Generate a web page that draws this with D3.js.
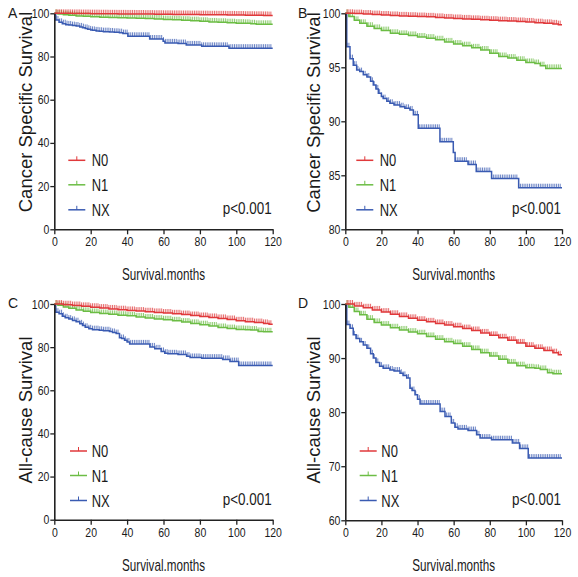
<!DOCTYPE html>
<html><head><meta charset="utf-8">
<script src="https://cdn.jsdelivr.net/npm/d3@7"></script>
<style>
body{margin:0;background:#fff}
svg{display:block}
text{font-family:"Liberation Sans",Arial,sans-serif;fill:#1a1a1a}
</style></head>
<body><svg id="c" width="578" height="577"></svg>
<script>
// ---------------- data ----------------
const groups = ["N0", "N1", "NX"];
const groupColors = ["#e0393b", "#6cbd45", "#3a5bb2"];
const xTicks = [0, 20, 40, 60, 80, 100, 120];
const xTitle = "Survival.months";
const pText = "p<0.001";

// Cancer specific survival [month, %]
const csN0 = [[0,100],[5,99.97],[10,99.93],[15,99.88],[20,99.84],[25,99.8],[30,99.76],[35,99.73],[40,99.7],[45,99.67],[50,99.62],[55,99.57],[60,99.52],[65,99.48],[70,99.44],[75,99.4],[80,99.36],[85,99.32],[90,99.28],[95,99.24],[100,99.2],[105,99.13],[110,99.07],[115,99.02],[118,98.95],[120,98.95]];
const csN1 = [[0,100],[2,99.7],[5,99.35],[8,99.07],[12,98.8],[16,98.6],[20,98.4],[25,98.15],[30,98.05],[35,97.95],[40,97.8],[45,97.7],[50,97.55],[55,97.35],[60,97.15],[65,97.0],[70,96.8],[75,96.6],[80,96.3],[85,96.0],[90,95.85],[95,95.65],[100,95.45],[105,95.35],[108,95.15],[111,94.9],[120,94.9]];
const csNX = [[0,100],[0.8,96.9],[2.6,95.8],[4.4,95.2],[6.3,94.75],[8,94.6],[10,94.3],[12,94.1],[14,93.7],[15.5,93.35],[17,93.0],[18.3,92.6],[20,92.3],[21,92.1],[23,91.85],[24.7,91.67],[27,91.5],[30.3,91.35],[33,91.2],[35.8,91.05],[37.7,90.6],[40.4,89.35],[52.4,88.1],[59.8,87.1],[60.8,86.3],[68,86.0],[72.5,85.35],[81,84.7],[96,83.85],[120,83.85]];

// All-cause survival [month, %]
const acN0 = [[0,100],[5,99.65],[10,99.3],[15,98.9],[20,98.5],[25,98.1],[30,97.7],[35,97.35],[40,97.0],[45,96.7],[50,96.4],[55,96.1],[60,95.8],[65,95.45],[70,95.1],[75,94.65],[80,94.2],[85,93.75],[90,93.3],[95,92.8],[100,92.2],[105,91.8],[110,91.4],[115,91.0],[118,90.6],[120,90.6]];
const acN1 = [[0,100],[2,99.4],[5,98.6],[8,98.0],[12,97.2],[16,96.6],[20,96.1],[25,95.6],[30,95.2],[35,94.8],[40,94.5],[45,94.0],[50,93.5],[55,93.0],[60,92.7],[65,92.2],[70,91.6],[75,91.0],[80,90.4],[85,89.8],[90,89.1],[95,88.6],[100,88.2],[105,88.1],[108,87.9],[112,87.3],[115,87.1],[120,87.1]];
const acNX = [[0,100],[0.8,96.2],[2.6,95.5],[4.4,94.3],[6,93.6],[8,93.0],[10,92.4],[12,91.8],[14,90.8],[15.5,90.0],[17,89.2],[19,88.5],[21,88.1],[24.7,87.8],[27,87.6],[30.3,87.2],[32,86.8],[34,86.3],[35.8,84.4],[37,84.0],[38.6,83.2],[40,82.4],[41.4,81.5],[52.5,80.1],[55.2,79.2],[58.7,78.0],[60.7,77.2],[62.4,76.9],[68,76.6],[72.7,75.8],[74.6,75.2],[81,74.9],[92.5,74.3],[96.5,73.3],[101.3,71.5],[120,71.5]];

// censoring marks (months)
const censorMonths = [1,2,3,4,5,6,7,8,9,10,11,12,13,14,15,16,17,18,19,20,21,22,23,24,25,26,27,28,29,30,31,32,33,34,35,36,37,38,39,40,41,42,43,44,45,46,47,48,49,50,51,52,53,54,55,56,57,58,59,60,61,62,63,64,65,66,67,68,69,70,71,72,73,74,75,76,77,78,79,80,81,82,83,84,85,86,87,88,89,90,91,92,93,94,95,96,97,98,99,100,101,102,103,104,105,106,107,108,109,110,111,112,113,114,115,116,117,118,119];

const yTicksFull = [0, 20, 40, 60, 80, 100];
const yTicksCS = [80, 85, 90, 95, 100];
const yTicksAC = [60, 70, 80, 90, 100];

// ---------------- layout ----------------
const panels = [
  {letter:"A", lx:8,   ly:18,  title:"Cancer Specific Survival", titleX:32,  titleCY:112,   x0:54.3,  x1:272.7, yTop:13.3, yBot:229.3, domain:[0,100],  ticks:yTicksFull, series:[csN0,csN1,csNX], legX:68.3,  legTX:91.7},
  {letter:"B", lx:298, ly:18,  title:"Cancer Specific Survival", titleX:320, titleCY:112.5, x0:345.3, x1:562,   yTop:13.3, yBot:229.3, domain:[80,100], ticks:yTicksCS,   series:[csN0,csN1,csNX], legX:356.3, legTX:379.7},
  {letter:"C", lx:8,   ly:308, title:"All-cause Survival",       titleX:32,  titleCY:410,   x0:54.3,  x1:272.7, yTop:304,  yBot:519.7, domain:[0,100],  ticks:yTicksFull, series:[acN0,acN1,acNX], legX:70,    legTX:91.7},
  {letter:"D", lx:298, ly:308, title:"All-cause Survival",       titleX:320, titleCY:410,   x0:345.3, x1:562,   yTop:304,  yBot:520.3, domain:[60,100], ticks:yTicksAC,   series:[acN0,acN1,acNX], legX:359.7, legTX:381.3}
];

const svg = d3.select("#c");
svg.append("rect").attr("width",578).attr("height",577).attr("fill","#fff");

function ntext(parent, x, y, str, size, sx, anchor) {
  const g = parent.append("g").attr("transform", `translate(${x},${y}) scale(${sx},1)`);
  return g.append("text").attr("font-size", size).attr("text-anchor", anchor || "start").text(str);
}

const bis = d3.bisector(d => d[0]).right;
function survAt(data, t) {
  const i = bis(data, t) - 1;
  return data[Math.max(0, i)][1];
}

panels.forEach(p => {
  const g = svg.append("g");
  const xs = d3.scaleLinear().domain([0,120]).range([p.x0, p.x1]);
  const ys = d3.scaleLinear().domain(p.domain).range([p.yBot, p.yTop]);

  // curves (NX first, N0 on top)
  [2,1,0].forEach(k => {
    const data = p.series[k];
    const col = groupColors[k];
    g.append("path").datum(data)
      .attr("fill","none").attr("stroke",col).attr("stroke-width",1.5)
      .attr("d", d3.line().x(d => xs(d[0])).y(d => ys(d[1])).curve(d3.curveStepAfter));
    g.append("g").selectAll("line").data(censorMonths).join("line")
      .attr("x1", m => xs(m)).attr("x2", m => xs(m))
      .attr("y1", m => ys(survAt(data, m)))
      .attr("y2", m => ys(survAt(data, m)) - 4)
      .attr("stroke", col).attr("stroke-width", 1).attr("opacity", 0.75);
  });

  // axes
  const ax = g.append("g").attr("transform", `translate(0,${p.yBot})`)
    .call(d3.axisBottom(xs).tickValues(xTicks).tickSize(5).tickSizeOuter(0).tickPadding(3));
  const ay = g.append("g").attr("transform", `translate(${p.x0},0)`)
    .call(d3.axisLeft(ys).tickValues(p.ticks).tickSize(4).tickSizeOuter(0));
  [ax, ay].forEach(a => {
    a.select(".domain").attr("stroke","#222").attr("stroke-width",1.6);
    a.selectAll(".tick line").attr("stroke","#222").attr("stroke-width",1.3);
    a.selectAll(".tick text").attr("font-size",12.5).attr("fill","#1a1a1a")
      .attr("font-family",'"Liberation Sans",Arial,sans-serif')
      .attr("transform","scale(0.84,1)");
  });
  ay.selectAll(".tick text").attr("x", -5/0.84);

  // titles
  ntext(g, (p.x0+p.x1)/2, p.yTop + 267, xTitle, 16, 0.73, "middle");
  g.append("text").attr("transform", `translate(${p.titleX},${p.titleCY}) rotate(-90)`)
    .attr("font-size", 18.5).attr("text-anchor","middle").text(p.title);
  g.append("text").attr("x", p.lx).attr("y", p.ly).attr("font-size", 14).text(p.letter);

  // legend
  const rows = [147, 171.5, 196.5];
  groups.forEach((name, k) => {
    const y = p.yTop + rows[k];
    g.append("line").attr("x1", p.legX).attr("x2", p.legX + 17).attr("y1", y).attr("y2", y)
      .attr("stroke", groupColors[k]).attr("stroke-width", 1.5);
    g.append("line").attr("x1", p.legX + 8.5).attr("x2", p.legX + 8.5).attr("y1", y).attr("y2", y - 4)
      .attr("stroke", groupColors[k]).attr("stroke-width", 1);
    ntext(g, p.legTX, y + 6, name, 16, 0.81, "start");
  });

  // p value
  ntext(g, p.x1 - 1, p.yTop + 201, pText, 16, 0.84, "end");
});
</script></body></html>
